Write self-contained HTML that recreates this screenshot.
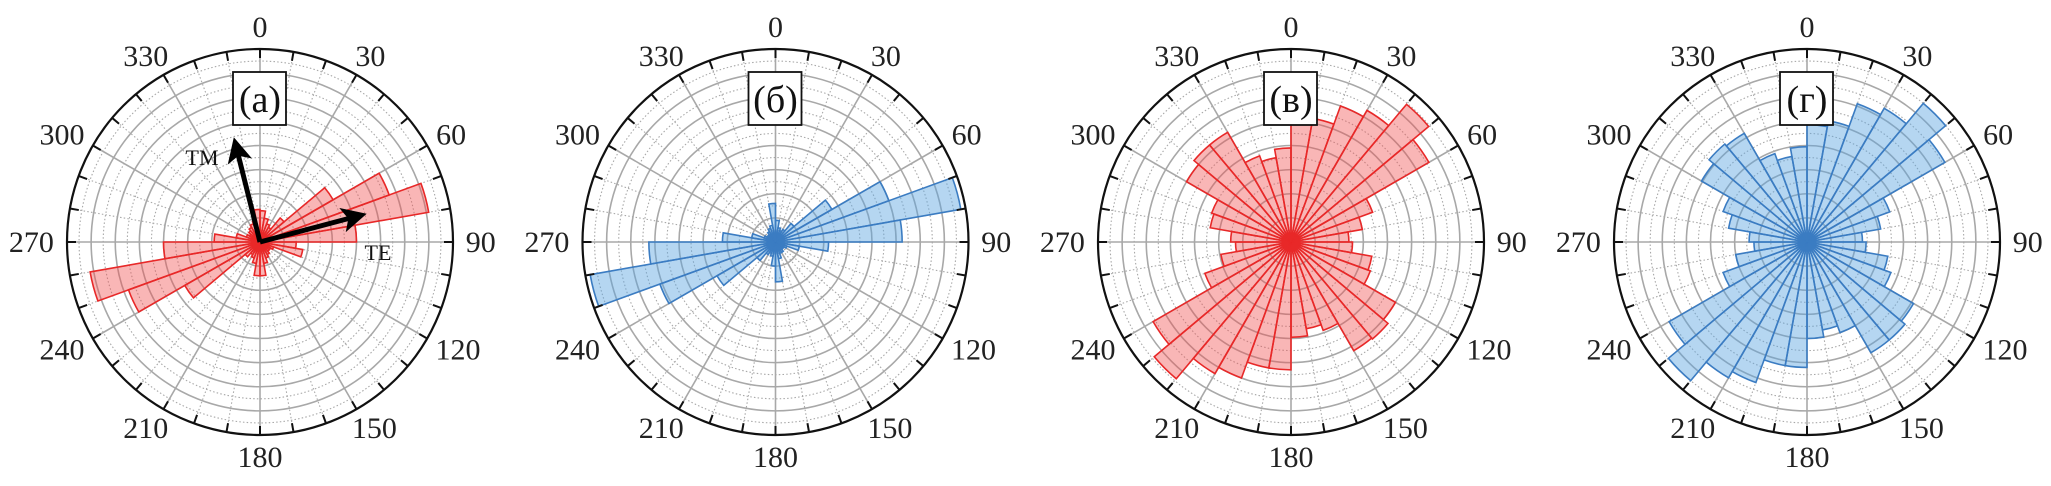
<!DOCTYPE html>
<html><head><meta charset="utf-8"><style>
html,body{margin:0;padding:0;background:#fff;}
svg{display:block;font-family:"Liberation Serif","DejaVu Serif",serif;}
</style></head><body>
<svg id="fig" width="2051" height="486" viewBox="0 0 2051 486" xmlns="http://www.w3.org/2000/svg"></svg>
<script>
const binStarts=[0,10,20,30,40,50,60,70,80,90,100,110,120,130,140,150,160,170,180,190,200,210,220,230,240,250,260,270,280,290,300,310,320,330,340,350];
const dataA=[1.3,1.0,0.8,0.7,1.3,3.5,5.7,7.1,4.0,1.5,1.8,0.6,0.5,0.5,0.6,0.7,0.9,1.4,1.4,0.9,0.7,0.6,0.8,3.6,5.8,7.15,4.0,1.9,1.0,0.6,0.5,0.6,0.7,0.8,0.9,1.35];
const dataB=[0.9,0.6,0.5,0.6,1.0,2.7,5.0,7.8,5.25,2.2,1.0,0.5,0.4,0.4,0.5,0.5,0.7,1.65,1.0,0.6,0.5,0.6,1.0,2.8,5.1,7.8,5.25,2.2,1.0,0.5,0.4,0.4,0.5,0.6,0.7,1.6];
const dataV=[5.07,5.2,6.0,6.3,7.45,6.6,3.6,3.0,2.4,2.55,3.4,3.5,5.0,5.25,5.2,3.9,3.65,3.95,5.3,5.3,6.0,6.3,7.4,6.6,3.8,2.95,2.3,2.5,3.4,3.5,5.0,5.25,5.25,3.8,3.55,3.9];
const dataG=[4.86,5.1,6.1,6.4,7.5,6.6,3.65,3.1,2.3,2.45,3.4,3.7,5.1,5.3,5.3,4.0,3.7,4.0,5.2,5.2,6.2,6.5,7.5,6.6,3.7,3.0,2.2,2.4,3.3,3.7,5.05,5.3,5.2,3.9,3.6,3.95];
const tickLabels=[0,30,60,90,120,150,180,210,240,270,300,330];
const panelLabels=["(a)","(б)","(в)","(г)"];
const rMax=8;

const NS="http://www.w3.org/2000/svg";
const svg=document.getElementById('fig');
const R=193, CY=242;
const centers=[260,775.5,1291,1807];
function mk(tag,attrs,parent){const e=document.createElementNS(NS,tag);for(const k in attrs)e.setAttribute(k,attrs[k]);(parent||svg).appendChild(e);return e;}
function rScale(v){return v/rMax*R;}
function pt(cx,r,deg){const a=deg*Math.PI/180;return [cx+r*Math.sin(a),CY-r*Math.cos(a)];}

function drawPanel(i,data,fill,stroke){
  const cx=centers[i];
  const g=mk('g',{});
  
  
  // grid rings
  for(let k=1;k<16;k++){
    const r=rScale(k/2);
    const c=mk('circle',{cx:cx,cy:CY,r:r,fill:'none',stroke:'#a8a8a8','stroke-width':k%2===0?1.6:1.1,'stroke-dasharray':k%2===0?'none':'1.5,2.2'},g);
    
    
  }
  for(let d=0;d<360;d+=10){
    const p=pt(cx,R,d);
    const major=d%30===0;
    const l=mk('line',{x1:cx,y1:CY,x2:p[0],y2:p[1],stroke:'#a8a8a8','stroke-width':major?1.6:1.1,'stroke-dasharray':major?'none':'1.5,2.2'},g);
    
    
  }
  // bars
  const bg=mk('g',{},g);
  
  
  data.forEach((v,j)=>{
    const a0=binStarts[j], a1=a0+10, r=rScale(v);
    const p0=pt(cx,r,a0), p1=pt(cx,r,a1);
    const b=mk('path',{d:`M${cx},${CY} L${p0[0]},${p0[1]} A${r},${r} 0 0 1 ${p1[0]},${p1[1]} Z`,fill:fill,stroke:stroke,'stroke-width':1.6,'stroke-linejoin':'miter'},bg);
    
    
  });
  // outer ring & ticks
  const o=mk('circle',{cx:cx,cy:CY,r:R,fill:'none',stroke:'#111','stroke-width':2.2},g);
  
  
  for(let d=0;d<360;d+=10){
    const p=pt(cx,R,d), q=pt(cx,R-9,d);
    const t=mk('line',{x1:p[0],y1:p[1],x2:q[0],y2:q[1],stroke:'#111','stroke-width':2},g);
    
    
  }
  tickLabels.forEach(d=>{
    const s=String(d);
    const w=s.length*15;
    const a=d*Math.PI/180;
    const dx=Math.sin(a), dy=-Math.cos(a);
    const r0=R+12;
    const x=cx+r0*dx+dx*w/2*1.05;
    const y=CY+r0*dy+dy*10+10;
    const t=mk('text',{x:x,y:y,'text-anchor':'middle','font-size':30,fill:'#222'},g);
    t.textContent=s;
    
    
  });
  // panel label box
  const bx=mk('rect',{x:cx-27,y:72,width:53,height:53,fill:'#fff',stroke:'#111','stroke-width':1.8},g);
  
  
  const lt=mk('text',{x:cx,y:112,'text-anchor':'middle','font-size':38,fill:'#111'},g);
  lt.textContent=panelLabels[i];
  
  
}
drawPanel(0,dataA,'rgba(240,80,80,0.42)','#e82828');
drawPanel(1,dataB,'rgba(90,165,225,0.45)','#3b7cc2');
drawPanel(2,dataV,'rgba(240,80,80,0.42)','#e82828');
drawPanel(3,dataG,'rgba(90,165,225,0.45)','#3b7cc2');

// polarization arrows in panel (a)
const defs=mk('defs',{});
const m=mk('marker',{id:'ah',markerWidth:5,markerHeight:5,refX:3.2,refY:2.5,orient:'auto',markerUnits:'strokeWidth'},defs);
mk('path',{d:'M0,0 L5,2.5 L0,5 L1.2,2.5 Z',fill:'#000'},m);
const tm=mk('line',{x1:260,y1:242,x2:236,y2:146,stroke:'#000','stroke-width':5,'marker-end':'url(#ah)'});


const te=mk('line',{x1:260,y1:242,x2:358,y2:216,stroke:'#000','stroke-width':5,'marker-end':'url(#ah)'});


const tmT=mk('text',{x:202,y:165,'text-anchor':'middle','font-size':22,fill:'#111'});
tmT.textContent='TM';


const teT=mk('text',{x:378,y:260,'text-anchor':'middle','font-size':22,fill:'#111'});
teT.textContent='TE';


</script>
</body></html>
